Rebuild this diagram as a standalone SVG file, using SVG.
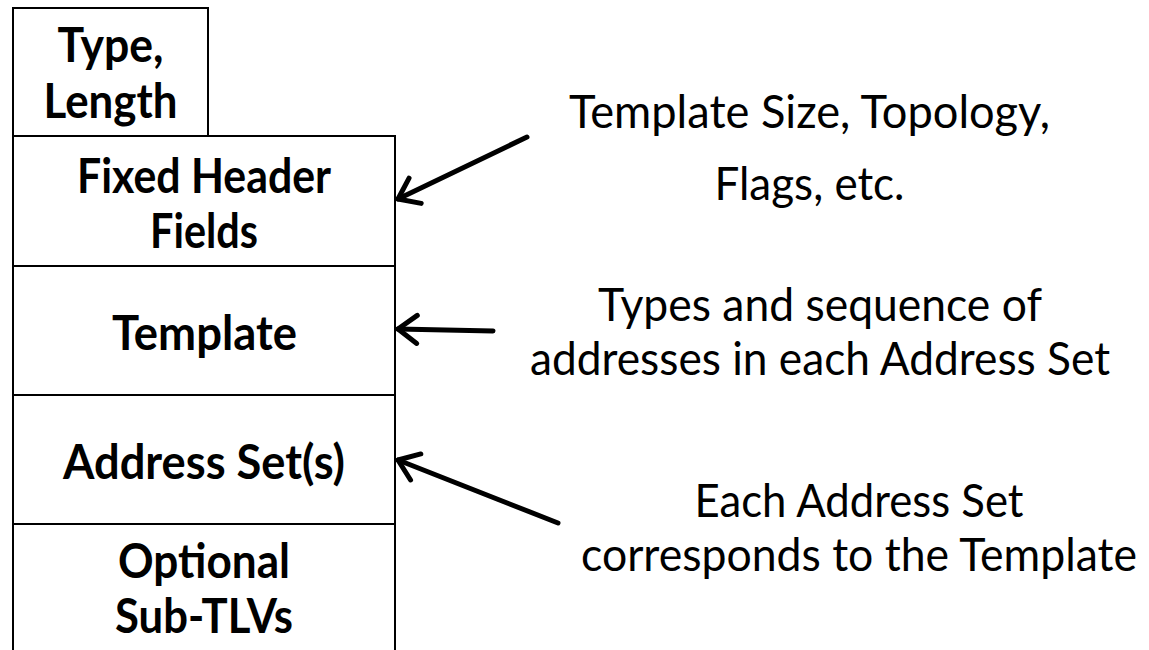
<svg xmlns="http://www.w3.org/2000/svg" width="1149" height="650" viewBox="0 0 1149 650">
  <style>
    .box { fill: #ffffff; stroke: #000000; stroke-width: 2; }
    .field { font-family: Lato, "Liberation Sans", sans-serif; font-weight: bold; font-size: 47px; fill: #000000; text-anchor: middle; }
    .note { font-family: Lato, "Liberation Sans", sans-serif; font-size: 47px; fill: #000000; text-anchor: middle; }
    .conn { fill: none; stroke: #000000; stroke-width: 5; stroke-linecap: round; }
  </style>
  <defs>
    <marker id="openHead" markerUnits="userSpaceOnUse" viewBox="-24 -20 30 40" refX="0" refY="0" markerWidth="30" markerHeight="40" orient="auto" overflow="visible">
      <path d="M -19 -14 L 0 0 L -19 14" fill="none" stroke="#000000" stroke-width="5" stroke-linecap="round" stroke-linejoin="round"/>
    </marker>
  </defs>

  <rect width="1149" height="650" fill="#ffffff"/>

  <!-- TLV layout, top to bottom -->
  <g id="type-length">
    <rect class="box" x="13" y="8" width="195" height="128"/>
    <text class="field" x="110.5" y="62" textLength="106" lengthAdjust="spacingAndGlyphs">Type,</text>
    <text class="field" x="110.5" y="118" textLength="134" lengthAdjust="spacingAndGlyphs">Length</text>
  </g>

  <g id="fixed-header">
    <rect class="box" x="13" y="136" width="382" height="130"/>
    <text class="field" x="204" y="193" textLength="254" lengthAdjust="spacingAndGlyphs">Fixed Header</text>
    <text class="field" x="204" y="248" textLength="108" lengthAdjust="spacingAndGlyphs">Fields</text>
  </g>

  <g id="template">
    <rect class="box" x="13" y="266" width="382" height="129"/>
    <text class="field" x="204.5" y="350" textLength="185" lengthAdjust="spacingAndGlyphs">Template</text>
  </g>

  <g id="address-sets">
    <rect class="box" x="13" y="395" width="382" height="129"/>
    <text class="field" x="204" y="479" textLength="282" lengthAdjust="spacingAndGlyphs">Address Set(s)</text>
  </g>

  <g id="sub-tlvs">
    <rect class="box" x="13" y="524" width="382" height="150"/>
    <text class="field" x="204" y="578" textLength="172" lengthAdjust="spacingAndGlyphs">Optional</text>
    <text class="field" x="204" y="633" textLength="178" lengthAdjust="spacingAndGlyphs">Sub-TLVs</text>
  </g>

  <!-- Annotations -->
  <g id="note-header">
    <text class="note" x="809.5" y="128" textLength="481" lengthAdjust="spacingAndGlyphs">Template Size, Topology,</text>
    <text class="note" x="809.5" y="200" textLength="190" lengthAdjust="spacingAndGlyphs">Flags, etc.</text>
  </g>

  <g id="note-template">
    <text class="note" x="820" y="321" textLength="444" lengthAdjust="spacingAndGlyphs">Types and sequence of</text>
    <text class="note" x="820" y="375" textLength="580" lengthAdjust="spacingAndGlyphs">addresses in each Address Set</text>
  </g>

  <g id="note-address">
    <text class="note" x="859" y="517" textLength="329" lengthAdjust="spacingAndGlyphs">Each Address Set</text>
    <text class="note" x="859" y="571" font-size="45" textLength="556" lengthAdjust="spacingAndGlyphs">corresponds to the Template</text>
  </g>

  <!-- Connectors -->
  <g id="connectors">
    <path class="conn" d="M 527 137 L 398 199" marker-end="url(#openHead)"/>
    <path class="conn" d="M 493 331 L 398 329" marker-end="url(#openHead)"/>
    <path class="conn" d="M 558 523 L 398 460" marker-end="url(#openHead)"/>
  </g>
</svg>
